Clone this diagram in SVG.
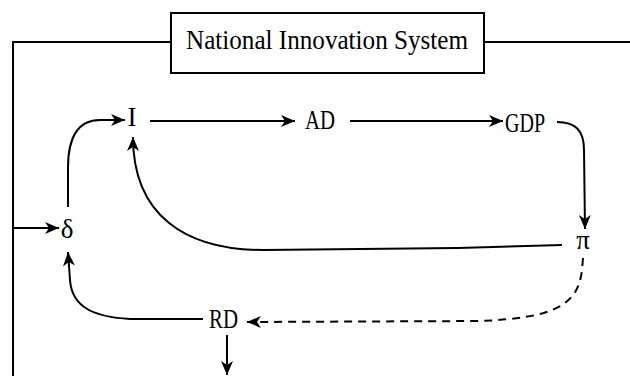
<svg xmlns="http://www.w3.org/2000/svg" width="630" height="376" viewBox="0 0 630 376">
<style>
.ln{fill:none;stroke:#000;stroke-width:2}
.dash{stroke-dasharray:8 6}
.t{font-family:"Liberation Serif","Times New Roman",serif;font-size:27px;fill:#000}
.title{font-family:"Liberation Serif","Times New Roman",serif;font-size:28px;fill:#000}
</style>
<defs>
<marker id="ah" markerUnits="userSpaceOnUse" markerWidth="16" markerHeight="14" refX="14" refY="6" orient="auto" overflow="visible">
<path d="M0,0 L14,6 L0,12 L4,6 z" fill="#000"/>
</marker>
</defs>
<rect width="630" height="376" fill="#fff"/>
<g id="nis">
<rect x="171" y="13" width="313" height="60" fill="#fff" stroke="#000" stroke-width="2"/>
<text class="title" x="186" y="49" textLength="282" lengthAdjust="spacingAndGlyphs">National Innovation System</text>
</g>
<g id="connectors">
<path class="ln" d="M171,42 H13 V376"/>
<path class="ln" d="M484,42 H630"/>
<path class="ln" d="M13,228 H59" marker-end="url(#ah)"/>
<path class="ln" d="M68,207 L68,168 C68,135 80,120 100,120 L125,120" marker-end="url(#ah)"/>
<path class="ln" d="M150,121 H295" marker-end="url(#ah)"/>
<path class="ln" d="M350,121 H503" marker-end="url(#ah)"/>
<path class="ln" d="M557,122 C575,122 584,130 584,150 L585,229" marker-end="url(#ah)"/>
<path class="ln" d="M562,245 L458,248 L263,250 C185,250 133,215 133,137" marker-end="url(#ah)"/>
<path class="ln" d="M203,319 L130,319 C95,317 72,308 70,280 L68,252" marker-end="url(#ah)"/>
<path class="ln dash" d="M583,258 L582,270 C578,305 555,318 480,321 L247,322" marker-end="url(#ah)"/>
<path class="ln" d="M227,335 V375" marker-end="url(#ah)"/>
</g>
<g id="node-I"><text class="t" x="132" y="126" text-anchor="middle">I</text></g>
<g id="node-AD"><text class="t" x="305" y="129" textLength="30" lengthAdjust="spacingAndGlyphs">AD</text></g>
<g id="node-GDP"><text class="t" x="505" y="132" textLength="40" lengthAdjust="spacingAndGlyphs">GDP</text></g>
<g id="node-pi"><text class="t" x="583" y="249" text-anchor="middle">π</text></g>
<g id="node-delta"><text class="t" x="67" y="238" text-anchor="middle">δ</text></g>
<g id="node-RD"><text class="t" x="209" y="328" textLength="29" lengthAdjust="spacingAndGlyphs">RD</text></g>
</svg>
